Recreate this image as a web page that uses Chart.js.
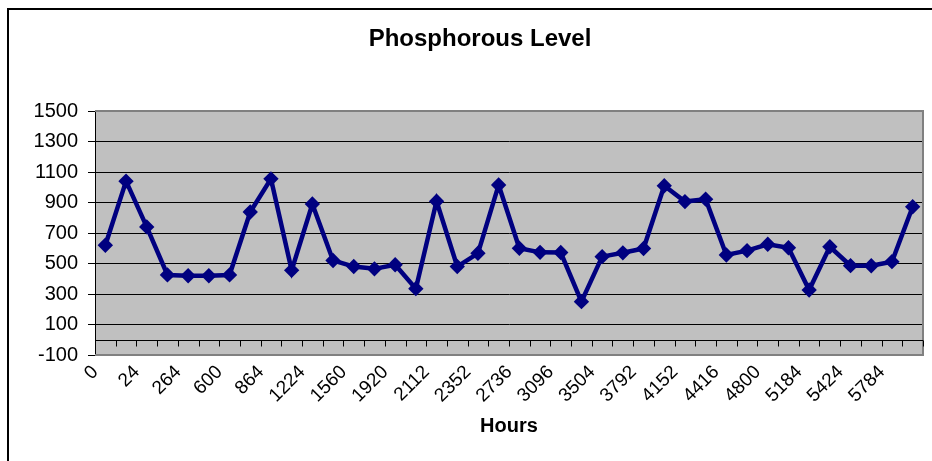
<!DOCTYPE html>
<html>
<head>
<meta charset="utf-8">
<title>Phosphorous Level</title>
<script src="https://cdn.jsdelivr.net/npm/chart.js@4/dist/chart.umd.min.js"></script>
<style>
  html, body { margin: 0; padding: 0; background: #fff; }
  #wrap { width: 932px; height: 461px; }
</style>
</head>
<body>
<div id="wrap"><canvas id="chartPhos" width="932" height="461"></canvas></div>
<script>
'use strict';

/* ─── DATA ───────────────────────────────────────────────── */
// every other hour label is hidden on the axis; the odd ones are estimates
const hours = ['0','6','24','144','264','432','600','720','864','1032',
  '1224','1392','1560','1752','1920','2016','2112','2232','2352','2544',
  '2736','2904','3096','3312','3504','3648','3792','3960','4152','4296',
  '4416','4608','4800','4992','5184','5304','5424','5592','5784','5952'];

const phosphorous = [620,1040,740,425,420,420,425,838,1055,455,
  890,520,480,465,492,335,908,480,567,1015,
  600,573,572,250,545,570,598,1010,906,922,
  556,584,626,603,326,610,486,485,512,872];

const yTicks = { min: -100, max: 1500, step: 200 };

const FONT = "'Liberation Sans', Arial, sans-serif";

/* ─── DECORATION PLUGIN ──────────────────────────────────── */
const excelLook = {
  id: 'excelLook',
  beforeDraw(chart) {
    const { ctx, chartArea: a } = chart;
    ctx.save();
    ctx.fillStyle = '#C0C0C0';
    ctx.fillRect(a.left, a.top, a.right - a.left, a.bottom - a.top);
    ctx.restore();
  },
  beforeDatasetsDraw(chart) {
    const { ctx, chartArea: a, scales: { x, y } } = chart;
    ctx.save();
    // plot border (gray) on top / right / bottom
    ctx.strokeStyle = '#808080';
    ctx.lineWidth = 2;
    ctx.beginPath();
    ctx.moveTo(a.left, a.top);
    ctx.lineTo(a.right, a.top);
    ctx.lineTo(a.right, a.bottom);
    ctx.lineTo(a.left, a.bottom);
    ctx.stroke();
    // category axis crossing at zero, with tick marks between categories
    const y0 = Math.round(y.getPixelForValue(0)) + 0.5;
    ctx.strokeStyle = '#000';
    ctx.lineWidth = 1;
    ctx.beginPath();
    ctx.moveTo(a.left, y0);
    ctx.lineTo(a.right, y0);
    const half = (x.getPixelForValue(1) - x.getPixelForValue(0)) / 2;
    for (let i = 0; i <= hours.length; i++) {
      const px = Math.round(x.getPixelForValue(i) - half) + 0.5;
      ctx.moveTo(px, y0);
      ctx.lineTo(px, y0 + 6);
    }
    ctx.stroke();
    ctx.restore();
  },
  afterDraw(chart) {
    const { ctx, width, height } = chart;
    ctx.save();
    // outer chart frame
    ctx.strokeStyle = '#000';
    ctx.lineWidth = 2;
    ctx.beginPath();
    ctx.moveTo(8, height);
    ctx.lineTo(8, 9);
    ctx.lineTo(width, 9);
    ctx.stroke();
    // title
    ctx.fillStyle = '#000';
    ctx.font = `bold 24px ${FONT}`;
    ctx.textAlign = 'center';
    ctx.textBaseline = 'middle';
    ctx.fillText('Phosphorous Level', 480, 39);
    ctx.restore();
  },
};

/* ─── CHART ──────────────────────────────────────────────── */
new Chart(document.getElementById('chartPhos').getContext('2d'), {
  type: 'line',
  data: {
    labels: hours,
    datasets: [{
      label: 'Phosphorous',
      data: phosphorous,
      borderColor: '#000080',
      backgroundColor: '#000080',
      borderWidth: 4.5,
      pointStyle: 'rectRot',
      pointRadius: 4.5,
      pointBackgroundColor: '#000080',
      pointBorderColor: '#000080',
      tension: 0,
    }],
  },
  options: {
    responsive: false,
    animation: false,
    layout: { padding: { top: 111, left: 0, right: 9, bottom: 0 } },
    plugins: {
      legend: { display: false },
      title: { display: false },
      tooltip: { enabled: false },
    },
    scales: {
      x: {
        type: 'category',
        offset: true,
        grid: { display: false, offset: true },
        border: { display: false },
        ticks: {
          autoSkip: false,
          minRotation: 45,
          maxRotation: 45,
          padding: -2,
          labelOffset: -10,
          color: '#000',
          font: { family: FONT, size: 19 },
          callback(val, idx) { return idx % 2 === 0 ? this.getLabelForValue(val) : ''; },
        },
        title: {
          display: true,
          text: 'Hours',
          color: '#000',
          font: { family: FONT, size: 20, weight: 'bold' },
          padding: { top: 0, bottom: 23 },
        },
        afterFit(scale) { scale.height = 106; },
      },
      y: {
        min: yTicks.min,
        max: yTicks.max,
        border: { display: true, color: '#000', width: 1 },
        grid: {
          color: ctx => (ctx.tick && (ctx.tick.value === yTicks.min || ctx.tick.value === yTicks.max)) ? 'rgba(0,0,0,0)' : '#000',
          tickColor: '#000',
          tickLength: 7,
          lineWidth: 1,
        },
        ticks: {
          stepSize: yTicks.step,
          padding: 10,
          color: '#000',
          font: { family: FONT, size: 20 },
          callback: v => String(v),
        },
        afterFit(scale) { scale.width = 95; },
      },
    },
  },
  plugins: [excelLook],
});
</script>
</body>
</html>
